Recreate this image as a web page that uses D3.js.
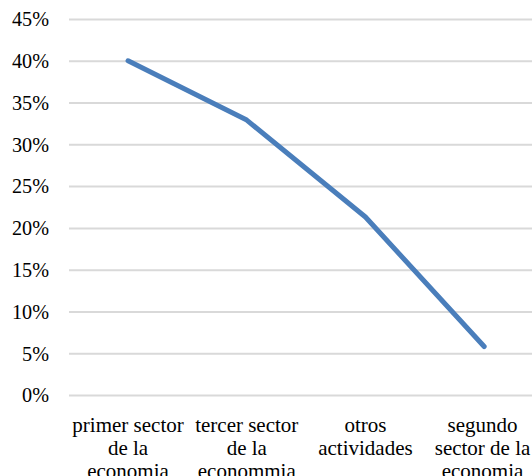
<!DOCTYPE html>
<html><head><meta charset="utf-8">
<script src="https://cdn.jsdelivr.net/npm/d3@7"></script>
<style>html,body{margin:0;padding:0;background:#fff;overflow:hidden}
svg text{font-family:"Liberation Serif","Times New Roman","DejaVu Serif",serif;}</style>
</head><body>
<svg id="c" width="532" height="476"></svg>
<script>
const categories = ["primer sector de la economia", "tercer sector de la econommia", "otros actividades", "segundo sector de la economia"];
const categoryLines = [["primer sector","de la","economia"],["tercer sector","de la","econommia"],["otros","actividades"],["segundo","sector de la","economia"]];
const values = [0.40, 0.329, 0.213, 0.058];
const yTicks = [0,0.05,0.10,0.15,0.20,0.25,0.30,0.35,0.40,0.45];

const svg = d3.select("#c");
const x = d3.scaleBand().domain(categories).range([68.7, 543.5]);
const y = d3.scaleLinear().domain([0,0.45]).range([395,19]);

const g = svg.append("g");
const yAxis = d3.axisLeft(y).tickValues(yTicks).tickFormat(d3.format(".0%")).tickSize(0).tickPadding(20);
const ya = g.append("g").attr("transform","translate(69,0)").call(yAxis);
ya.attr("font-family",null).attr("font-size",null);
ya.select(".domain").remove();
ya.selectAll(".tick line").attr("stroke","#d9d9d9").attr("stroke-width",2).attr("x1",0).attr("x2",532-69);
ya.selectAll(".tick text").attr("font-size",20.2).attr("fill","#000").attr("x",-20).attr("dy","0.34em");

const line = d3.line().x((d,i)=>x(categories[i])+x.bandwidth()/2).y(d=>y(d));
g.append("path").datum(values).attr("d",line).attr("fill","none")
  .attr("stroke","#4a7ebb").attr("stroke-width",5).attr("stroke-linecap","round").attr("stroke-linejoin","round");

categories.forEach((c,i)=>{
  let cx = x(c)+x.bandwidth()/2;
  const t = g.append("text").attr("font-size",21).attr("fill","#000").attr("text-anchor","middle");
  categoryLines[i].forEach((l,j)=>{
    t.append("tspan").attr("x",cx).attr("y",431.5+j*23).text(l);
  });
  const bb = t.node().getBBox();
  if (bb.x+bb.width > 531) {
    const shift = bb.x+bb.width-531;
    t.selectAll("tspan").attr("x",cx-shift);
  }
});
</script>
</body></html>
